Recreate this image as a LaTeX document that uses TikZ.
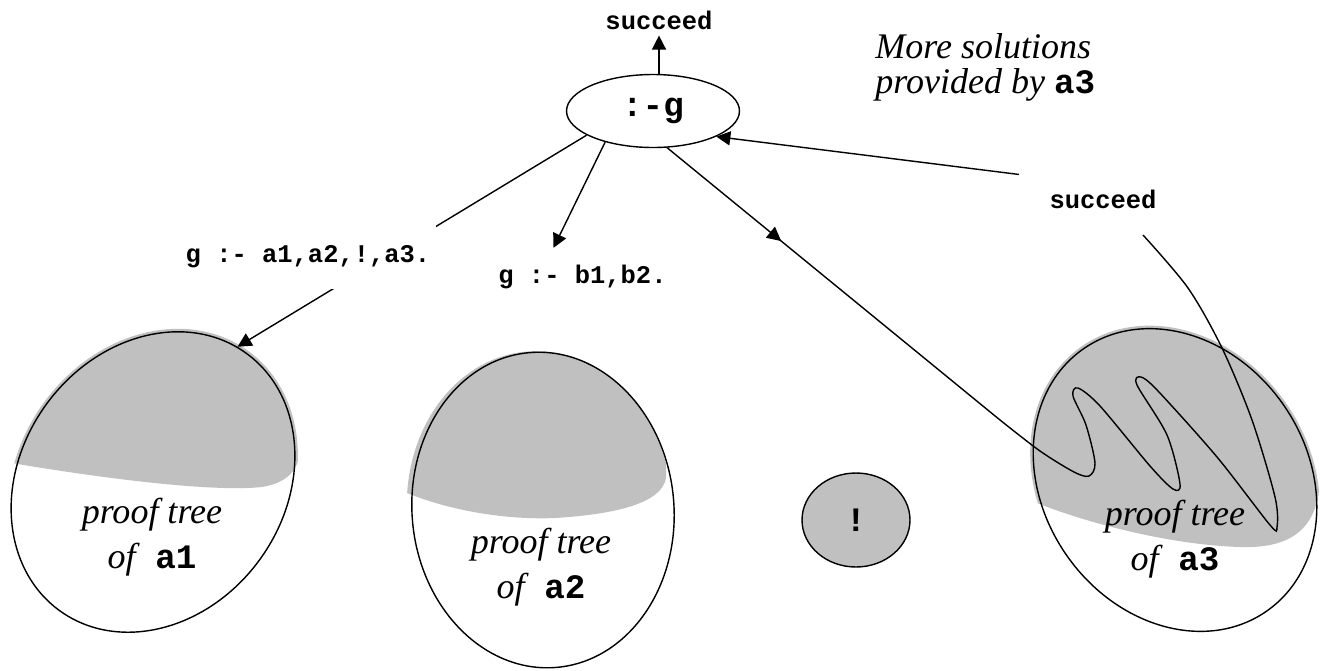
\documentclass[tikz,border=0pt]{standalone}
\usepackage{fontspec}
\setmainfont{Liberation Serif}
\setmonofont{Liberation Mono}
\usetikzlibrary{shapes.geometric,arrows.meta,decorations.markings}
\definecolor{treegray}{gray}{0.753}
\newcommand{\bigcode}{\fontsize{19.5}{22}\selectfont\ttfamily\bfseries\upshape}
\newcommand{\smallcode}{\fontsize{14.5}{16}\selectfont\ttfamily\bfseries}
\newcommand{\pred}[1]{{\bigcode #1}}
\tikzset{
  goal/.style={ellipse, draw, line width=0.8pt, minimum width=3.46cm, minimum height=1.46cm, inner sep=0pt, font=\bigcode},
  cutnode/.style={ellipse, draw, fill=treegray, line width=0.8pt, minimum width=2.16cm, minimum height=1.88cm, inner sep=0pt, font=\bigcode},
  tree/.style={ellipse, draw, line width=0.8pt, inner sep=0pt},
  clause/.style={font=\smallcode},
  note/.style={font=\fontsize{20.5}{25.5}\selectfont\itshape, align=center},
  arr/.style={line width=0.8pt, -{Triangle[length=8pt,width=8pt]}},
  midarr/.style={line width=0.8pt, postaction={decorate}, decoration={markings, mark=at position #1 with {\arrow{Triangle[length=8pt,width=8pt]}}}},
}
\begin{document}
\begin{tikzpicture}[x=0.02cm,y=0.02cm]
\useasboundingbox (0,0) rectangle (1322,-670);
% grey parts of the proof trees
\begin{scope}
\clip[rotate around={-36:(153,-482)}] (153,-482) ellipse (135 and 162);
\fill[treegray] (0,-461) .. controls (110,-480) and (215,-492) .. (262,-487) .. controls (292,-482) and (302,-465) .. (300,-440) -- (320,-440) -- (320,-320) -- (0,-320) -- cycle;
\end{scope}
\begin{scope}
\clip[rotate around={5:(540,-510)}] (540,-510) ellipse (133 and 159);
\fill[treegray] (400,-490) .. controls (450,-512) and (510,-520) .. (555,-518) .. controls (620,-514) and (662,-502) .. (666,-478) -- (667,-330) -- (400,-330) -- cycle;
\end{scope}
\begin{scope}
\clip[rotate around={35:(1175,-480)}] (1175,-480) ellipse (135 and 163);
\fill[treegray] (1025,-498) .. controls (1080,-522) and (1170,-545) .. (1240,-547) .. controls (1295,-549) and (1318,-525) .. (1320,-480) -- (1322,-320) -- (1025,-320) -- cycle;
\end{scope}
\node[tree, minimum width=5.28cm, minimum height=6.36cm, rotate=-36] (a1) at (153,-482) {};
\node[tree, minimum width=5.24cm, minimum height=6.32cm, rotate=5] (a2) at (543,-510) {};
\node[tree, minimum width=5.28cm, minimum height=6.4cm, rotate=35] (a3) at (1175,-480) {};
\node[cutnode] (cut) at (856,-520) {!};
\node[note] (pt1) at (152,-537) {proof tree\\of\hspace{0.55em}\pred{a1}};
\node[note] (pt2) at (541,-567) {proof tree\\of\hspace{0.55em}\pred{a2}};
\node[note] (pt3) at (1175,-539) {proof tree\\of\hspace{0.55em}\pred{a3}};
\node[goal] (g) at (653,-111) {:-g};
\node[clause] (s1) at (659,-20) {succeed};
\node[clause] (c2) at (582.5,-276.5) {g :- b1,b2.};
\node[clause] (s2) at (1103,-199) {succeed};
\node[anchor=north west, inner sep=0pt, align=left, font=\fontsize{20.5}{19.8}\selectfont\itshape] (more) at (875,-33) {More solutions\\provided by \pred{a3}};
\coordinate (back) at (1143,-235);
\draw[arr] (g.north -| s1.south) -- (s1.south);
\draw[arr] (g.200) -- (a1.94);
\node[clause, fill=white, minimum height=1.28cm] (c1) at (308,-256.5) {g :- a1,a2,!,a3.};
\draw[arr] (g.213) -- ([xshift=-0.58cm,yshift=0.21cm]c2.north);
\draw[midarr=2.95cm] (g.291) -- plot[smooth] coordinates {(1000,-420) (1040,-451) (1074,-472) (1089,-476) (1095,-463) (1086,-425) (1073,-396) (1078,-388) (1100,-406) (1150,-466) (1173,-489) (1180,-484) (1167,-435) (1137,-385) (1141,-377) (1158,-391) (1217,-457) (1270,-525) (1277,-527) (1275,-497) (1252,-420) (1222,-348) (1188,-288) (back)};
\draw[arr] ([xshift=-0.49cm,yshift=0.18cm]s2.north west) -- (g.338);
\end{tikzpicture}
\end{document}
